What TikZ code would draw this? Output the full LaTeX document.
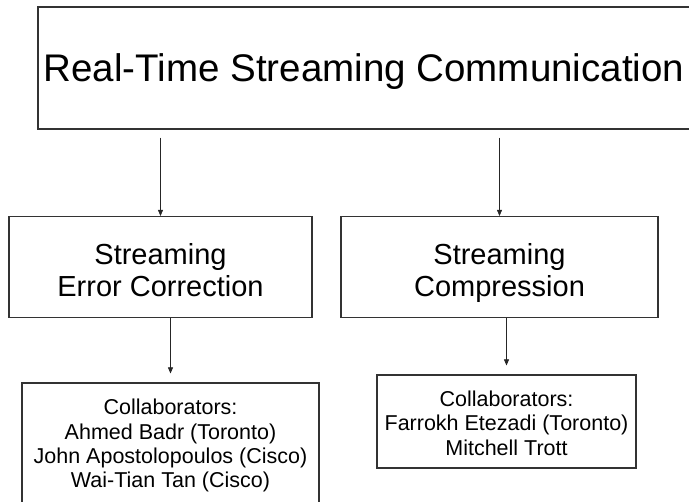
\documentclass[tikz,border=0pt]{standalone}
\usepackage{fontspec}
\setmainfont{Liberation Sans}
\usetikzlibrary{arrows.meta}

\begin{document}
\begin{tikzpicture}[
    x=1pt, y=-1pt,
    box/.style={draw=black!80, line width=1.1pt, fill=white, inner sep=0pt, align=center},
    arr/.style={-{Triangle[length=6pt,width=5pt]}, line width=0.6pt, black!85},
    bigtext/.style={font=\fontsize{38.5}{44}\selectfont},
    midtext/.style={font=\fontsize{29}{31.5}\selectfont},
    smalltext/.style={font=\fontsize{21.5}{24.3}\selectfont}
]

% luft over foerste og under sidste linje
\def\upstrut#1{\rule{0pt}{#1pt}}
\def\downstrut#1{\rule[-#1pt]{0pt}{#1pt}}

% ramme for billedet
\useasboundingbox (0,0) rectangle (689,502);

% hovedboks
\node[box, bigtext, text height=34pt, text depth=6pt,
      minimum width=652pt, minimum height=122pt] (rtsc) at (364,68)
{Real-Time Streaming Communication};

% de to emner
\node[box, midtext, minimum width=303pt, minimum height=101pt] (sec) at (160.5,267)
{\upstrut{35}Streaming\\Error Correction\downstrut{7.5}};
\node[box, midtext, minimum width=317pt, minimum height=101pt] (scomp) at (499.5,267)
{\upstrut{35}Streaming\\Compression\downstrut{7.5}};

% samarbejdspartnere
\node[box, smalltext, minimum width=297pt, minimum height=126pt] (collabA) at (170.5,446)
{\upstrut{16}Collaborators:\\Ahmed Badr (Toronto)\\John Apostolopoulos (Cisco)\\Wai-Tian Tan (Cisco)\downstrut{5.1}};
\node[box, smalltext, minimum width=259pt, minimum height=93pt] (collabB) at (506.5,421.5)
{\upstrut{25}Collaborators:\\Farrokh Etezadi (Toronto)\\Mitchell Trott\downstrut{6}};

% pile
\draw[arr, shorten <=8pt] (rtsc.south -| sec.north) -- (sec.north);
\draw[arr, shorten <=8pt] (rtsc.south -| scomp.north) -- (scomp.north);
\draw[arr, shorten >=9pt] (sec.south -| collabA.north) -- (collabA.north);
\draw[arr, shorten >=9pt] (scomp.south -| collabB.north) -- (collabB.north);

\end{tikzpicture}
\end{document}
